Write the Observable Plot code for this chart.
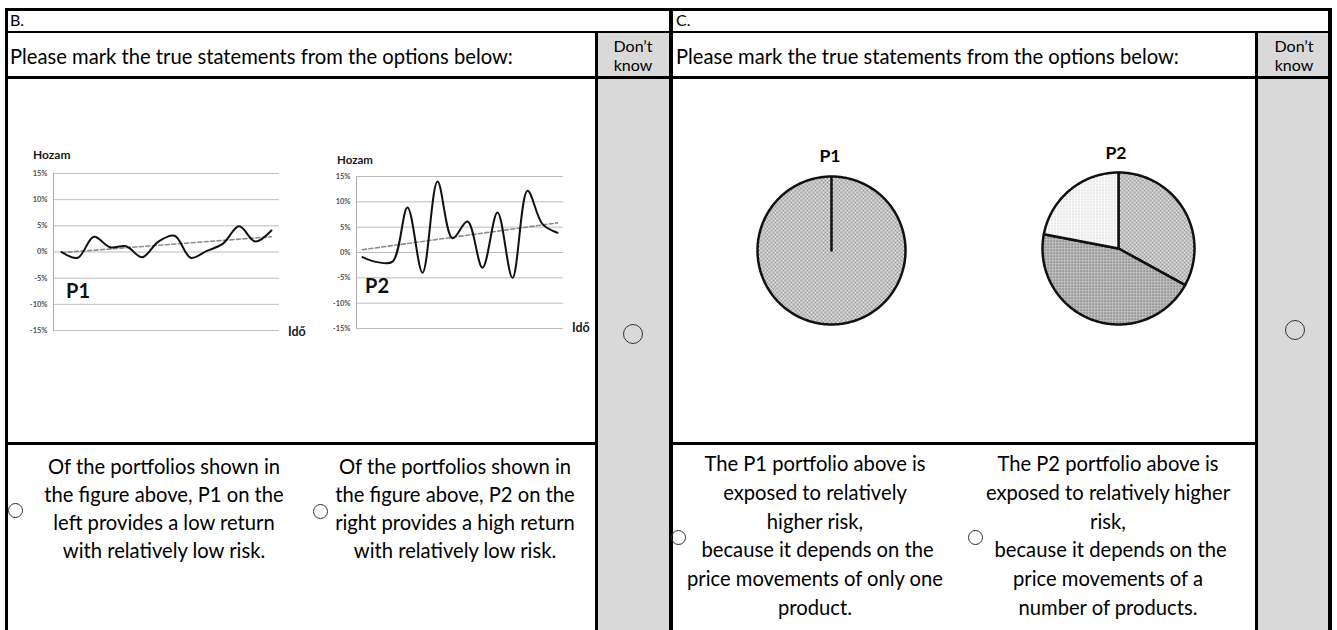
<!DOCTYPE html>
<html><head><meta charset="utf-8">
<script src="https://cdn.jsdelivr.net/npm/d3@7"></script>
<script src="https://cdn.jsdelivr.net/npm/@observablehq/plot@0.6"></script>
<style>
html,body{margin:0;padding:0;background:#fff;}
#page{position:relative;width:1337px;height:630px;overflow:hidden;font-family:Lato,"Open Sans",sans-serif;color:#000;}
.blk{position:absolute;background:#000;}
.gray{position:absolute;background:#d9d9d9;}
.txt{position:absolute;white-space:pre;line-height:20px;}
.radio{position:absolute;border:1.2px solid #333;border-radius:50%;box-sizing:border-box;}
.chart{position:absolute;}
</style></head>
<body>
<svg width="0" height="0" style="position:absolute">
<defs>
<pattern id="crossHatch" width="4" height="4" patternUnits="userSpaceOnUse">
<rect width="4" height="4" fill="#e4e4e4"/>
<path d="M0,0L4,4M4,0L0,4" stroke="#8a8a8a" stroke-width="0.8"/>
</pattern>
<pattern id="denseDots" width="3" height="3" patternUnits="userSpaceOnUse">
<rect width="3" height="3" fill="#c2c2c2"/>
<rect x="0" y="0" width="1.3" height="1.3" fill="#555"/>
</pattern>
<pattern id="sparseDots" width="3" height="3" patternUnits="userSpaceOnUse">
<rect width="3" height="3" fill="#fafafa"/>
<rect x="1" y="0" width="0.8" height="1.5" fill="#bdbdbd"/>
</pattern>
</defs>
</svg>
<div id="page"></div>
<script>
// ---------------- data ----------------
const periods = [0,1,2,3,4,5,6,7,8,9,10,11,12,13];
const p1Returns = [0,-1.1,2.9,0.9,1.1,-1.0,2.0,3.1,-1.1,0.2,1.6,4.9,2.0,4.1];
const p2Returns = [-0.9,-1.9,-1.8,8.9,-4.0,14.0,2.8,6.1,-3.0,7.9,-5.0,12.2,5.6,3.9];
const returnTicks = [-15,-10,-5,0,5,10,15];
const pieP1Labels = ["Product 1"];
const pieP1Shares = [100];
const pieP2Labels = ["Product A","Product B","Product C"];
const pieP2Shares = [33,45,22];
const headerB = "B.";
const headerC = "C.";
const question = "Please mark the true statements from the options below:";
const dontKnow = ["Don\u2019t","know"];
const stmtB1 = ["Of the portfolios shown in","the figure above, P1 on the","left provides a low return","with relatively low risk."];
const stmtB2 = ["Of the portfolios shown in","the figure above, P2 on the","right provides a high return","with relatively low risk."];
const stmtC1 = ["The P1 portfolio above is","exposed to relatively","higher risk,"," because it depends on the","price movements of only one","product."];
const stmtC2 = ["The P2 portfolio above is","exposed to relatively higher","risk,"," because it depends on the","price movements of a","number of products."];

// ---------------- styles ----------------
const p1Fills = ["url(#crossHatch)"];
const p2Fills = ["url(#crossHatch)","url(#denseDots)","url(#sparseDots)"];
const bodySize = 20.2;

const page = document.getElementById("page");
function box(cls, l, t, w, h) {
  const d = document.createElement("div");
  d.className = cls;
  Object.assign(d.style, {left: l + "px", top: t + "px", width: w + "px", height: h + "px"});
  page.appendChild(d);
  return d;
}
function text(str, x, y, {anchor = "start", size = 17, weight = "normal", color = "#000", lh = 22} = {}) {
  const d = document.createElement("div");
  d.className = "txt";
  d.textContent = str;
  d.style.fontSize = size + "px";
  d.style.fontWeight = weight;
  d.style.color = color;
  d.style.lineHeight = lh + "px";
  d.style.top = (y - lh / 2) + "px";
  if (anchor === "middle") { d.style.left = (x - 300) + "px"; d.style.width = "600px"; d.style.textAlign = "center"; }
  else if (anchor === "end") { d.style.left = (x - 600) + "px"; d.style.width = "600px"; d.style.textAlign = "right"; }
  else d.style.left = x + "px";
  page.appendChild(d);
}
function radio(cx, cy, r) { box("radio", cx - r, cy - r, 2 * r, 2 * r); }
function lines(arr, cx, y0, step, size) { arr.forEach((s, i) => text(s, cx, y0 + i * step, {anchor: "middle", size})); }

// gray "don't know" columns
box("gray", 598, 33, 71, 600);
box("gray", 1258, 33, 70, 600);
// table rules
box("blk", 5, 8, 1326, 3);
box("blk", 5, 8, 3, 622);
box("blk", 1328, 8, 3.5, 622);
box("blk", 669, 8, 3.5, 622);
box("blk", 5, 31, 1326, 2);
box("blk", 5, 76, 1326, 3);
box("blk", 595, 31, 3, 600);
box("blk", 1255, 31, 3, 600);
box("blk", 5, 442, 593, 3);
box("blk", 669, 442, 589, 3);

// header texts
text(headerB, 10, 20, {size: 16});
text(headerC, 676, 20, {size: 16});
text(question, 10, 56, {size: bodySize});
text(question, 676, 56, {size: bodySize});
text(dontKnow[0], 633, 45, {anchor: "middle", size: 16, lh: 17});
text(dontKnow[1], 633, 64, {anchor: "middle", size: 16, lh: 17});
text(dontKnow[0], 1294, 45, {anchor: "middle", size: 16, lh: 17});
text(dontKnow[1], 1294, 64, {anchor: "middle", size: 16, lh: 17});

// radios
radio(633, 334, 10);
radio(1295, 330, 10);
radio(15, 510, 7.5);
radio(320, 511, 7.5);
radio(678, 537, 7.5);
radio(975, 537, 7.5);

// statements
lines(stmtB1, 164, 466, 28, bodySize);
lines(stmtB2, 455, 466, 28, bodySize);
lines(stmtC1, 815, 463, 28.8, bodySize);
lines(stmtC2, 1108, 463, 28.8, bodySize);

// ---------------- line charts ----------------
function lineChart(values, {left, top, width, height, ml, mr, mt, mb, xDomain}) {
  const data = periods.map((t, i) => ({t, r: values[i]}));
  const svg = Plot.plot({
    width, height,
    marginLeft: ml, marginRight: mr, marginTop: mt, marginBottom: mb,
    x: {domain: xDomain, axis: null},
    y: {domain: [-15, 15], ticks: returnTicks, tickFormat: d => d + "%", tickSize: 0, tickPadding: 6, label: null},
    style: {background: "transparent", fontSize: "7.5px", fontWeight: "bold", color: "#505050", fontFamily: "Lato, sans-serif", overflow: "visible"},
    marks: [
      Plot.ruleY(returnTicks, {stroke: "#bdbdbd", strokeWidth: 1}),
      Plot.ruleX([xDomain[0]], {stroke: "#adadad", strokeWidth: 1}),
      Plot.linearRegressionY(data, {x: "t", y: "r", stroke: "#8c8c8c", strokeWidth: 1.6, strokeDasharray: "4,2.5", ci: 0}),
      Plot.line(data, {x: "t", y: "r", curve: "catmull-rom", stroke: "#111", strokeWidth: 2})
    ]
  });
  const wrap = document.createElement("div");
  wrap.className = "chart";
  Object.assign(wrap.style, {left: left + "px", top: top + "px", width: width + "px", height: height + "px"});
  wrap.appendChild(svg);
  page.appendChild(wrap);
}
lineChart(p1Returns, {left: 10, top: 140, width: 300, height: 205, ml: 43, mr: 31, mt: 33, mb: 15, xDomain: [-0.5, 13.5]});
lineChart(p2Returns, {left: 320, top: 140, width: 280, height: 205, ml: 36, mr: 37, mt: 36, mb: 17, xDomain: [-0.4, 13.4]});
text("Hozam", 33, 155, {size: 12, weight: "bold", color: "#1a1a1a"});
text("Id\u0151", 288, 332, {size: 12.5, weight: "bold", color: "#1a1a1a"});
text("P1", 66, 290, {size: 20, weight: "bold", color: "#111"});
text("Hozam", 337, 160, {size: 11.5, weight: "bold", color: "#1a1a1a"});
text("Id\u0151", 572, 328, {size: 12.5, weight: "bold", color: "#1a1a1a"});
text("P2", 365, 285, {size: 20, weight: "bold", color: "#111"});

// ---------------- pies ----------------
function pieChart(labels, shares, fills, {left, top, size, inset}) {
  const arcs = d3.pie().sort(null)(shares);
  const features = arcs.map((a, i) => {
    const ring = [[0, 0]];
    const n = Math.max(2, Math.ceil((a.endAngle - a.startAngle) / (Math.PI / 180)));
    for (let k = 0; k <= n; k++) {
      const ang = a.startAngle + (a.endAngle - a.startAngle) * k / n;
      ring.push([Math.sin(ang), -Math.cos(ang)]);
    }
    ring.push([0, 0]);
    return {type: "Feature", properties: {label: labels[i], fill: fills[i]}, geometry: {type: "Polygon", coordinates: [ring]}};
  });
  const svg = Plot.plot({
    width: size, height: size, margin: 0,
    projection: {type: "identity", domain: {type: "FeatureCollection", features}, inset},
    color: {type: "identity"},
    style: {background: "transparent", overflow: "visible"},
    marks: [
      Plot.geo(features, {fill: d => d.properties.fill, stroke: "#111", strokeWidth: 2.5, strokeLinejoin: "round"})
    ]
  });
  const wrap = document.createElement("div");
  wrap.className = "chart";
  Object.assign(wrap.style, {left: left + "px", top: top + "px", width: size + "px", height: size + "px"});
  wrap.appendChild(svg);
  page.appendChild(wrap);
}
pieChart(pieP1Labels, pieP1Shares, p1Fills, {left: 751, top: 170, size: 160, inset: 6});
pieChart(pieP2Labels, pieP2Shares, p2Fills, {left: 1038, top: 168, size: 160, inset: 4});
text("P1", 830, 156, {anchor: "middle", size: 17.5, weight: "bold"});
text("P2", 1116, 153, {anchor: "middle", size: 17.5, weight: "bold"});
</script>
</body></html>
